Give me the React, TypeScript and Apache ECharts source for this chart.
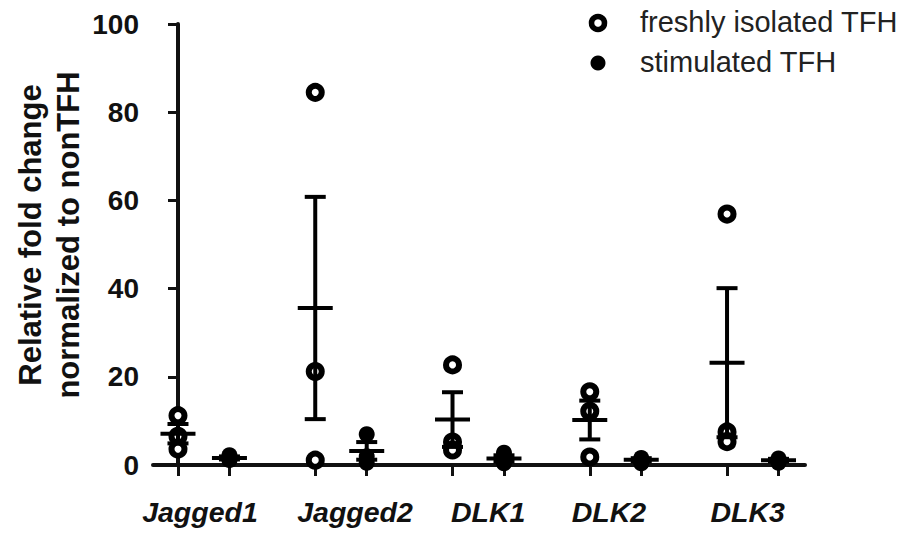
import React, { useEffect, useRef } from "react";
import * as echarts from "echarts";

// ---- data ----
const categories = ["Jagged1", "Jagged2", "DLK1", "DLK2", "DLK3"];
const seriesNames = ["freshly isolated TFH", "stimulated TFH"];

// individual points (three donors per group)
const freshPoints = [
  [11.2, 6.5, 3.6],
  [84.5, 21.2, 1.1],
  [22.7, 5.2, 3.4],
  [16.6, 12.2, 1.8],
  [56.9, 7.5, 5.3],
];
const stimPoints = [
  [2.2, 1.5, 1.1],
  [7.0, 2.0, 0.5],
  [2.8, 1.2, 0.4],
  [1.6, 0.9, 0.4],
  [1.5, 0.9, 0.5],
];

// mean and SEM bars
const freshMean = [7.1, 35.6, 10.3, 10.2, 23.2];
const freshSem = [2.2, 25.2, 6.2, 4.4, 16.9];
const stimMean = [1.6, 3.2, 1.5, 1.2, 1.1];
const stimSem = [0.35, 2.0, 0.7, 0.35, 0.3];

const yTickValues = [0, 20, 40, 60, 80, 100];

// ---- layout constants ----
const STIM_OFFSET = 0.375;
const LABEL_X = [0.16, 1.29, 2.26, 3.14, 4.15];
const FONT = "'Liberation Sans', Arial, sans-serif";

export default function App() {
  const ref = useRef<HTMLDivElement>(null);

  useEffect(() => {
    if (!ref.current) return;
    const chart = echarts.init(ref.current, null, { renderer: "svg" });

    const freshData: number[][] = [];
    const stimData: number[][] = [];
    categories.forEach((_, i) => {
      freshPoints[i].forEach((v) => freshData.push([i, v]));
      stimPoints[i].forEach((v) => stimData.push([i + STIM_OFFSET, v]));
    });
    const barData: number[][] = [];
    categories.forEach((_, i) => {
      barData.push([i, freshMean[i], freshSem[i]]);
      barData.push([i + STIM_OFFSET, stimMean[i], stimSem[i]]);
    });
    const tickPositions: number[] = [];
    categories.forEach((_, i) => {
      tickPositions.push(i, i + STIM_OFFSET);
    });

    const LW = 4;
    const option: any = {
      animation: false,
      backgroundColor: "#fff",
      grid: { left: 153, right: 100, top: 24, bottom: 68, containLabel: false },
      xAxis: {
        type: "value",
        min: -0.182,
        max: 4.568,
        splitLine: { show: false },
        axisLine: { show: true, onZero: false, lineStyle: { color: "#111", width: LW } },
        axisTick: {
          show: true,
          customValues: tickPositions,
          length: 11,
          lineStyle: { color: "#111", width: 3 },
        },
        axisLabel: {
          show: true,
          customValues: LABEL_X,
          margin: 32,
          formatter: (v: number) => {
            const idx = LABEL_X.findIndex((p) => Math.abs(p - v) < 1e-6);
            return idx >= 0 ? categories[idx] : "";
          },
          fontFamily: FONT,
          fontSize: 28.5,
          fontWeight: "bold",
          fontStyle: "italic",
          color: "#111",
        },
      },
      yAxis: {
        type: "value",
        min: 0,
        max: 100,
        interval: 20,
        splitLine: { show: false },
        axisLine: { show: true, lineStyle: { color: "#111", width: LW } },
        axisTick: { show: true, length: 10, lineStyle: { color: "#111", width: 3 } },
        axisLabel: {
          margin: 14,
          fontFamily: FONT,
          fontSize: 28,
          fontWeight: "bold",
          color: "#111",
          formatter: (v: number) => (yTickValues.includes(v) ? String(v) : ""),
        },
      },
      graphic: [
        {
          type: "text",
          x: 49,
          y: 235,
          rotation: Math.PI / 2,
          style: {
            text: "Relative fold change\nnormalized to nonTFH",
            font: `bold 31px ${FONT}`,
            lineHeight: 38,
            fill: "#111",
            textAlign: "center",
            textVerticalAlign: "middle",
          },
        },
        {
          type: "circle",
          shape: { cx: 598, cy: 23, r: 6.5 },
          style: { fill: "#fff", stroke: "#000", lineWidth: 5.5 },
        },
        {
          type: "circle",
          shape: { cx: 598, cy: 63, r: 7.5 },
          style: { fill: "#000" },
        },
        {
          type: "text",
          x: 640,
          y: 22,
          style: {
            text: seriesNames[0],
            font: `29px ${FONT}`,
            fill: "#222",
            textVerticalAlign: "middle",
          },
        },
        {
          type: "text",
          x: 640,
          y: 62,
          style: {
            text: seriesNames[1],
            font: `29px ${FONT}`,
            fill: "#222",
            textVerticalAlign: "middle",
          },
        },
      ],
      series: [
        {
          name: seriesNames[0],
          type: "scatter",
          data: freshData,
          symbol: "circle",
          symbolSize: 13,
          clip: false,
          itemStyle: { color: "#fff", borderColor: "#000", borderWidth: 6, opacity: 1 },
          z: 2,
        },
        {
          name: seriesNames[1],
          type: "scatter",
          data: stimData,
          symbol: "circle",
          symbolSize: 16,
          clip: false,
          itemStyle: { color: "#000", opacity: 1 },
          z: 2,
        },
        {
          name: "mean ± SEM",
          type: "custom",
          data: barData,
          z: 3,
          clip: false,
          renderItem: (params: any, api: any) => {
            const x = api.value(0);
            const m = api.value(1);
            const s = api.value(2);
            const pm = api.coord([x, m]);
            const ph = api.coord([x, m + s]);
            const pl = api.coord([x, m - s]);
            const cap = 10.5;
            const half = 17.5;
            const st = { stroke: "#000", lineWidth: LW };
            return {
              type: "group",
              children: [
                { type: "line", shape: { x1: pm[0], y1: pl[1], x2: pm[0], y2: ph[1] }, style: st },
                { type: "line", shape: { x1: pm[0] - cap, y1: ph[1], x2: pm[0] + cap, y2: ph[1] }, style: st },
                { type: "line", shape: { x1: pm[0] - cap, y1: pl[1], x2: pm[0] + cap, y2: pl[1] }, style: st },
                { type: "line", shape: { x1: pm[0] - half, y1: pm[1], x2: pm[0] + half, y2: pm[1] }, style: st },
              ],
            };
          },
        },
      ],
    };

    chart.setOption(option);
    return () => chart.dispose();
  }, []);

  return (
    <div
      ref={ref}
      style={{ position: "fixed", left: 0, top: 0, width: 905, height: 533, background: "#fff" }}
    />
  );
}
